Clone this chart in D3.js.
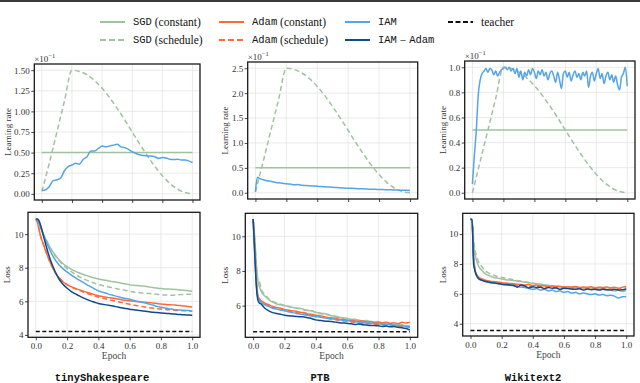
<!DOCTYPE html>
<html><head><meta charset="utf-8">
<script src="https://cdn.jsdelivr.net/npm/d3@7"></script>
<style>body{margin:0;background:#fff} svg{display:block}</style>
</head><body><svg id="c" width="640" height="383"></svg>
<script>
// ---------- data ----------
const xTicks = [0, 0.2, 0.4, 0.6, 0.8, 1.0];
const datasets = ["tinyShakespeare", "PTB", "Wikitext2"];

// learning-rate panels (values in units of 1e-1)
const sgdConstX = [0, 1];
const tsLrSgdConst = [0.5, 0.5];
const ptbLrSgdConst = [0.5, 0.5];
const wtLrSgdConst = [0.5, 0.5];
const sgdSchedX = [0,0.05,0.1,0.15,0.2,0.25,0.3,0.35,0.4,0.45,0.5,0.55,0.6,0.65,0.7,0.75,0.8,0.85,0.9,0.95,1.0];
const tsLrSgdSched = [0.03,0.375,0.75,1.125,1.5,1.485,1.443,1.374,1.28,1.167,1.037,0.897,0.75,0.603,0.463,0.333,0.22,0.126,0.057,0.015,0];
const ptbLrSgdSched = [0.02,0.625,1.25,1.875,2.5,2.475,2.405,2.29,2.134,1.945,1.728,1.495,1.25,1.005,0.772,0.555,0.366,0.21,0.095,0.024,0];
const wtLrSgdSched = [0,0.25,0.5,0.75,1.0,0.99,0.962,0.916,0.854,0.778,0.691,0.598,0.5,0.402,0.309,0.222,0.146,0.084,0.038,0.01,0];

const tsLrX = [0,0.025,0.05,0.075,0.1,0.125,0.15,0.175,0.2,0.225,0.25,0.275,0.3,0.325,0.35,0.375,0.4,0.425,0.45,0.475,0.5,0.525,0.55,0.575,0.6,0.625,0.65,0.675,0.7,0.725,0.75,0.775,0.8,0.825,0.85,0.875,0.9,0.925,0.95,0.975,1.0];
const tsLrIam = [0.04,0.05,0.09,0.16,0.17,0.19,0.28,0.33,0.35,0.37,0.36,0.42,0.45,0.52,0.52,0.55,0.58,0.57,0.58,0.59,0.6,0.57,0.56,0.54,0.51,0.49,0.475,0.465,0.46,0.46,0.45,0.43,0.44,0.435,0.42,0.415,0.42,0.41,0.41,0.4,0.38];

const ptbLrX = [0,0.0125,0.025,0.05,0.075,0.1,0.125,0.15,0.175,0.2,0.225,0.25,0.275,0.3,0.325,0.35,0.375,0.4,0.425,0.45,0.475,0.5,0.525,0.55,0.575,0.6,0.625,0.65,0.675,0.7,0.725,0.75,0.775,0.8,0.825,0.85,0.875,0.9,0.925,0.95,0.975,1.0];
const ptbLrIam = [0.02,0.31,0.29,0.26,0.24,0.23,0.21,0.2,0.19,0.18,0.175,0.16,0.165,0.15,0.145,0.14,0.135,0.13,0.125,0.12,0.115,0.11,0.105,0.1,0.095,0.09,0.09,0.085,0.08,0.08,0.075,0.07,0.07,0.065,0.065,0.06,0.06,0.055,0.055,0.05,0.05,0.047];

const wtLrX = [0,0.0125,0.025,0.0375,0.05,0.0625,0.075,0.0875,0.1,0.1125,0.125,0.1375,0.15,0.1625,0.175,0.1875,0.2,0.2125,0.225,0.2375,0.25,0.2625,0.275,0.2875,0.3,0.3125,0.325,0.3375,0.35,0.3625,0.375,0.3875,0.4,0.4125,0.425,0.4375,0.45,0.4625,0.475,0.4875,0.5,0.5125,0.525,0.5375,0.55,0.5625,0.575,0.5875,0.6,0.6125,0.625,0.6375,0.65,0.6625,0.675,0.6875,0.7,0.7125,0.725,0.7375,0.75,0.7625,0.775,0.7875,0.8,0.8125,0.825,0.8375,0.85,0.8625,0.875,0.8875,0.9,0.9125,0.925,0.9375,0.95,0.9625,0.975,0.9875,1.0];
const wtLrIam = [0.07,0.3,0.5,0.78,0.9,0.95,0.97,0.99,0.96,0.99,0.98,0.94,0.97,0.93,0.96,0.98,0.99,1.0,0.98,1.0,0.97,0.99,0.95,0.99,0.92,0.97,0.9,0.96,0.93,0.98,0.94,0.99,0.96,0.91,0.97,0.94,0.98,0.93,0.96,0.9,0.95,0.97,0.93,0.88,0.96,0.9,0.83,0.95,0.97,0.92,0.96,0.89,0.94,0.97,0.92,0.95,0.9,0.96,0.93,0.97,0.84,0.93,0.96,0.89,0.95,0.99,0.91,0.95,0.87,0.93,0.96,0.9,0.94,0.88,0.93,0.86,0.82,0.92,0.95,1.0,0.85];

// loss panels
const lossX = [0,0.01,0.02,0.03,0.04,0.05,0.075,0.1,0.125,0.15,0.175,0.2,0.225,0.25,0.275,0.3,0.325,0.35,0.375,0.4,0.425,0.45,0.475,0.5,0.525,0.55,0.575,0.6,0.625,0.65,0.675,0.7,0.725,0.75,0.775,0.8,0.825,0.85,0.875,0.9,0.925,0.95,0.975,1.0];
const teacherX = [0, 1];

const tsSgdConst = [10.9,10.88,10.72,10.48,10.22,9.98,9.5,9.08,8.74,8.46,8.24,8.06,7.92,7.8,7.7,7.61,7.53,7.46,7.39,7.33,7.29,7.25,7.2,7.16,7.12,7.08,7.03,6.98,6.96,6.94,6.92,6.9,6.86,6.82,6.79,6.76,6.74,6.73,6.72,6.7,6.68,6.66,6.63,6.6];
const tsSgdSched = [10.9,10.88,10.72,10.48,10.22,9.98,9.5,9.06,8.7,8.4,8.15,7.95,7.78,7.62,7.48,7.36,7.26,7.17,7.08,7.0,6.94,6.89,6.84,6.79,6.74,6.7,6.65,6.6,6.56,6.53,6.5,6.48,6.46,6.44,6.42,6.4,6.38,6.37,6.37,6.38,6.4,6.41,6.42,6.42];
const tsAdamConst = [10.9,10.7,10.3,9.9,9.6,9.35,8.7,8.15,7.7,7.4,7.15,7.0,6.88,6.78,6.7,6.62,6.54,6.47,6.4,6.33,6.29,6.25,6.21,6.18,6.14,6.1,6.06,6.03,6.0,5.98,5.96,5.94,5.92,5.9,5.87,5.84,5.82,5.8,5.79,5.77,5.75,5.73,5.7,5.68];
const tsAdamSched = [10.9,10.7,10.3,9.9,9.6,9.35,8.7,8.15,7.7,7.4,7.15,7.0,6.87,6.76,6.66,6.57,6.48,6.4,6.33,6.26,6.2,6.14,6.08,6.03,5.98,5.93,5.88,5.83,5.78,5.74,5.7,5.66,5.62,5.59,5.56,5.54,5.52,5.5,5.48,5.46,5.45,5.44,5.43,5.42];
const tsIam = [10.9,10.85,10.65,10.4,10.15,9.9,9.35,8.85,8.45,8.15,7.93,7.75,7.58,7.42,7.28,7.14,7.0,6.88,6.74,6.62,6.55,6.48,6.4,6.34,6.28,6.22,6.17,6.12,6.06,6.0,5.95,5.9,5.84,5.78,5.7,5.65,5.6,5.56,5.53,5.5,5.48,5.47,5.45,5.43];
const tsIamAdam = [10.9,10.9,10.8,10.55,10.2,9.85,9.0,8.3,7.75,7.3,7.0,6.78,6.6,6.46,6.34,6.22,6.12,6.03,5.95,5.87,5.83,5.79,5.75,5.71,5.66,5.62,5.57,5.53,5.5,5.47,5.44,5.41,5.38,5.35,5.33,5.31,5.29,5.27,5.25,5.23,5.21,5.2,5.18,5.17];
const tsTeacher = [4.2, 4.2];

const ptbSgdConst = [11.0,10.0,8.5,7.5,7.1,6.85,6.55,6.35,6.2,6.1,6.05,6.0,5.95,5.9,5.85,5.83,5.78,5.72,5.7,5.62,5.58,5.55,5.5,5.42,5.4,5.33,5.3,5.28,5.2,5.22,5.15,5.12,5.14,5.08,5.06,5.05,4.98,5.02,4.95,4.92,4.95,4.88,4.85,4.82];
const ptbSgdSched = [11.0,9.8,8.3,7.45,7.4,7.0,6.65,6.4,6.25,6.15,6.08,6.02,5.96,5.9,5.86,5.84,5.75,5.72,5.7,5.6,5.55,5.5,5.48,5.4,5.36,5.3,5.25,5.22,5.2,5.15,5.16,5.1,5.08,5.05,5.02,4.98,4.97,4.95,4.92,4.9,4.88,4.86,4.83,4.8];
const ptbAdamConst = [11.0,9.5,7.6,6.6,6.4,6.3,6.15,6.05,5.95,5.9,5.85,5.78,5.75,5.7,5.68,5.62,5.6,5.52,5.5,5.45,5.42,5.38,5.32,5.3,5.28,5.22,5.2,5.18,5.15,5.12,5.1,5.12,5.05,5.08,5.02,5.06,5.0,5.05,4.98,5.02,4.96,5.04,5.0,5.05];
const ptbAdamSched = [11.0,9.4,7.5,6.55,6.35,6.25,6.1,5.98,5.9,5.85,5.78,5.72,5.7,5.64,5.6,5.55,5.52,5.46,5.42,5.38,5.35,5.3,5.27,5.22,5.2,5.16,5.12,5.1,5.06,5.04,5.0,4.98,4.96,4.95,4.92,4.93,4.88,4.9,4.85,4.84,4.82,4.8,4.78,4.75];
const ptbIam = [11.0,9.2,7.3,6.5,6.3,6.2,6.05,5.95,5.85,5.8,5.75,5.7,5.65,5.6,5.55,5.52,5.48,5.45,5.4,5.36,5.35,5.3,5.27,5.25,5.2,5.18,5.15,5.14,5.1,5.08,5.05,5.02,5.0,5.0,4.97,4.96,4.93,4.92,4.9,4.88,4.85,4.84,4.8,4.78];
const ptbIamAdam = [11.0,9.0,7.2,6.33,6.15,6.1,5.85,5.7,5.6,5.55,5.5,5.45,5.42,5.4,5.38,5.36,5.35,5.3,5.25,5.18,5.15,5.12,5.1,5.08,5.05,5.02,5.0,4.98,4.95,4.92,4.94,4.9,4.88,4.86,4.85,4.84,4.8,4.82,4.78,4.8,4.75,4.72,4.68,4.6];
const ptbTeacher = [4.5, 4.5];

const wtSgdConst = [11.0,10.9,9.3,8.6,8.2,7.9,7.55,7.3,7.2,7.1,7.05,7.0,6.95,6.92,6.9,6.85,6.82,6.78,6.74,6.7,6.68,6.64,6.6,6.56,6.55,6.52,6.5,6.48,6.46,6.45,6.42,6.42,6.4,6.38,6.37,6.35,6.34,6.33,6.3,6.3,6.28,6.25,6.22,6.2];
const wtSgdSched = [11.0,10.9,9.7,8.9,8.5,8.2,7.8,7.5,7.35,7.25,7.15,7.1,7.05,7.0,6.95,6.9,6.86,6.8,6.76,6.72,6.68,6.64,6.6,6.56,6.52,6.5,6.47,6.45,6.42,6.42,6.4,6.38,6.36,6.35,6.33,6.32,6.3,6.28,6.25,6.22,6.2,6.18,6.16,6.15];
const wtAdamConst = [11.0,10.9,8.5,7.6,7.3,7.15,7.0,6.9,6.85,6.82,6.8,6.75,6.72,6.7,6.68,6.65,6.62,6.6,6.62,6.55,6.6,6.52,6.55,6.5,6.52,6.48,6.5,6.45,6.48,6.45,6.5,6.42,6.46,6.44,6.48,6.4,6.45,6.42,6.46,6.4,6.44,6.38,6.45,6.5];
const wtAdamSched = [11.0,10.9,8.4,7.55,7.25,7.1,6.95,6.85,6.8,6.78,6.74,6.7,6.66,6.64,6.6,6.58,6.55,6.54,6.5,6.52,6.48,6.5,6.46,6.45,6.42,6.44,6.4,6.42,6.38,6.4,6.36,6.38,6.35,6.36,6.34,6.35,6.32,6.34,6.3,6.33,6.3,6.32,6.35,6.4];
const wtIam = [11.0,10.9,8.3,7.5,7.2,7.05,6.9,6.8,6.75,6.72,6.7,6.65,6.6,6.58,6.55,6.5,6.45,6.42,6.35,6.3,6.35,6.25,6.3,6.2,6.25,6.15,6.2,6.1,6.15,6.05,6.1,6.0,6.05,6.0,5.95,6.0,5.92,5.95,5.88,5.9,5.85,5.72,5.8,5.82];
const wtIamAdam = [11.0,11.0,8.0,7.5,7.2,7.05,6.9,6.82,6.78,6.72,6.7,6.65,6.62,6.6,6.58,6.45,6.6,6.52,6.4,6.48,6.42,6.45,6.35,6.42,6.38,6.4,6.3,6.38,6.35,6.32,6.3,6.34,6.25,6.32,6.28,6.3,6.25,6.3,6.28,6.26,6.3,6.25,6.28,6.3];
const wtTeacher = [3.55, 3.55];

// ---------- style ----------
const COL = {sgd: "#9fc39f", adam: "#fd6b3d", iam: "#55a4e6", iamAdam: "#0e4b8b", teacher: "#111111"};
const SERIF = "'Liberation Serif','DejaVu Serif',serif";
const MONO = "'Liberation Mono','DejaVu Sans Mono',monospace";
const DASH = "5,3";

const svg = d3.select("#c");
svg.append("rect").attr("x",0).attr("y",0).attr("width",640).attr("height",2).attr("fill","#3a3a3a");

function lossSeries(sc, ss, ac, as, ia, iad, te) {
  return [
    {x: lossX, y: sc, c: COL.sgd},
    {x: lossX, y: ss, c: COL.sgd, d: DASH},
    {x: lossX, y: ac, c: COL.adam},
    {x: lossX, y: as, c: COL.adam, d: DASH},
    {x: lossX, y: ia, c: COL.iam},
    {x: lossX, y: iad, c: COL.iamAdam},
    {x: teacherX, y: te, c: COL.teacher, d: "4,2.5", w: 1.5}
  ];
}

const panels = [
  {L:34.3,R:200,T:64,B:200, yDom:[-0.075,1.575], yTicks:[0,0.25,0.5,0.75,1,1.25,1.5], yFmt:d3.format(".2f"), xLab:false, ylab:"Learning rate", ylabX:7.5, offset:true,
   series:[{x:sgdConstX,y:tsLrSgdConst,c:COL.sgd},{x:sgdSchedX,y:tsLrSgdSched,c:COL.sgd,d:DASH},{x:tsLrX,y:tsLrIam,c:COL.iam}]},
  {L:247.7,R:417.7,T:62,B:199, yDom:[-0.125,2.625], yTicks:[0,0.5,1,1.5,2,2.5], yFmt:d3.format(".1f"), xLab:false, ylab:"Learning rate", ylabX:225, offset:true,
   series:[{x:sgdConstX,y:ptbLrSgdConst,c:COL.sgd},{x:sgdSchedX,y:ptbLrSgdSched,c:COL.sgd,d:DASH},{x:ptbLrX,y:ptbLrIam,c:COL.iam}]},
  {L:464.7,R:635,T:61,B:199, yDom:[-0.05,1.05], yTicks:[0,0.2,0.4,0.6,0.8,1.0], yFmt:d3.format(".1f"), xLab:false, ylab:"Learning rate", ylabX:442.5, offset:true,
   series:[{x:sgdConstX,y:wtLrSgdConst,c:COL.sgd},{x:sgdSchedX,y:wtLrSgdSched,c:COL.sgd,d:DASH},{x:wtLrX,y:wtLrIam,c:COL.iam}]},
  {L:28,R:200,T:212.3,B:337.3, yDom:[3.86,11.3], yTicks:[4,6,8,10], yFmt:d3.format("d"), xLab:true, ylab:"Loss", ylabX:7, title:datasets[0], titleX:102,
   series:lossSeries(tsSgdConst,tsSgdSched,tsAdamConst,tsAdamSched,tsIam,tsIamAdam,tsTeacher)},
  {L:245.3,R:417.7,T:213.3,B:337.3, yDom:[4.175,11.325], yTicks:[6,8,10], yFmt:d3.format("d"), xLab:true, ylab:"Loss", ylabX:225, title:datasets[1], titleX:320,
   series:lossSeries(ptbSgdConst,ptbSgdSched,ptbAdamConst,ptbAdamSched,ptbIam,ptbIamAdam,ptbTeacher)},
  {L:462.7,R:634,T:213.3,B:336, yDom:[3.18,11.39], yTicks:[4,6,8,10], yFmt:d3.format("d"), xLab:true, ylab:"Loss", ylabX:442.5, title:datasets[2], titleX:533,
   series:lossSeries(wtSgdConst,wtSgdSched,wtAdamConst,wtAdamSched,wtIam,wtIamAdam,wtTeacher)}
];

panels.forEach((p, pi) => {
  const g = svg.append("g");
  const x = d3.scaleLinear().domain([-0.05, 1.05]).range([p.L, p.R]);
  const y = d3.scaleLinear().domain(p.yDom).range([p.B, p.T]);
  // grid
  g.selectAll(".gx").data(xTicks).join("line")
    .attr("x1", d => x(d)).attr("x2", d => x(d)).attr("y1", p.T).attr("y2", p.B)
    .attr("stroke", "#e4e4e4").attr("stroke-width", 0.8);
  g.selectAll(".gy").data(p.yTicks).join("line")
    .attr("y1", d => y(d)).attr("y2", d => y(d)).attr("x1", p.L).attr("x2", p.R)
    .attr("stroke", "#e4e4e4").attr("stroke-width", 0.8);
  // lines
  const clipId = "clip" + pi;
  svg.append("clipPath").attr("id", clipId).append("rect")
    .attr("x", p.L).attr("y", p.T).attr("width", p.R - p.L).attr("height", p.B - p.T);
  const lg = g.append("g").attr("clip-path", `url(#${clipId})`);
  p.series.forEach(s => {
    const pts = s.x.map((xv, i) => [xv, s.y[i]]);
    const line = d3.line().x(d => x(d[0])).y(d => y(d[1])).curve(d3.curveMonotoneX);
    lg.append("path").attr("d", line(pts)).attr("fill", "none")
      .attr("stroke", s.c).attr("stroke-width", s.w || 1.5)
      .attr("stroke-dasharray", s.d || null).attr("stroke-linejoin", "round");
  });
  // axes
  const ax = g.append("g").attr("transform", `translate(0,${p.B})`)
    .call(d3.axisBottom(x).tickValues(xTicks).tickSize(3).tickPadding(2.5)
      .tickFormat(p.xLab ? d3.format(".1f") : () => ""));
  const ay = g.append("g").attr("transform", `translate(${p.L},0)`)
    .call(d3.axisLeft(y).tickValues(p.yTicks).tickSize(3).tickPadding(1.5).tickFormat(p.yFmt));
  [ax, ay].forEach(a => {
    a.select(".domain").remove();
    a.selectAll("line").attr("stroke", "#333").attr("stroke-width", 0.9);
    a.selectAll("text").attr("font-family", SERIF).attr("font-size", 9).attr("fill", "#333");
  });
  // frame
  g.append("rect").attr("x", p.L).attr("y", p.T).attr("width", p.R - p.L).attr("height", p.B - p.T)
    .attr("fill", "none").attr("stroke", "#1a1a1a").attr("stroke-width", 1.3);
  // y label
  g.append("text").attr("transform", `translate(${p.ylabX},${(p.T + p.B) / 2}) rotate(-90)`)
    .attr("text-anchor", "middle").attr("dominant-baseline", "central")
    .attr("font-family", SERIF).attr("font-size", 9).attr("fill", "#333").text(p.ylab);
  if (p.offset) {
    const t = g.append("text").attr("x", p.L).attr("y", p.T - 2.5)
      .attr("font-family", SERIF).attr("font-size", 9).attr("fill", "#333");
    t.append("tspan").text("×10");
    t.append("tspan").attr("dy", -3.5).attr("font-size", 6.5).text("−1");
  }
  if (p.xLab) {
    g.append("text").attr("x", (x(0) + x(1)) / 2).attr("y", p.B + 22)
      .attr("text-anchor", "middle").attr("font-family", SERIF).attr("font-size", 9.5).attr("fill", "#444").text("Epoch");
    g.append("text").attr("x", p.titleX).attr("y", 381)
      .attr("text-anchor", "middle").attr("font-family", MONO).attr("font-weight", "bold")
      .attr("font-size", 10.5).attr("fill", "#111").text(p.title);
  }
});

// ---------- legend ----------
const legendItems = [
  {x:100, y:22, c:COL.sgd, parts:[["SGD","m"],[" (constant)","s"]]},
  {x:100, y:40, c:COL.sgd, d:"6,3", parts:[["SGD","m"],[" (schedule)","s"]]},
  {x:219, y:22, c:COL.adam, parts:[["Adam","m"],[" (constant)","s"]]},
  {x:219, y:40, c:COL.adam, d:"6,3", parts:[["Adam","m"],[" (schedule)","s"]]},
  {x:345, y:22, c:COL.iam, parts:[["IAM","m"]]},
  {x:345, y:40, c:COL.iamAdam, parts:[["IAM","m"],[" − ","s"],["Adam","m"]]},
  {x:448, y:22, c:COL.teacher, d:"5,2.5", parts:[["teacher","s"]]}
];
const lg = svg.append("g");
legendItems.forEach(it => {
  lg.append("line").attr("x1", it.x).attr("x2", it.x + 25).attr("y1", it.y).attr("y2", it.y)
    .attr("stroke", it.c).attr("stroke-width", 2).attr("stroke-dasharray", it.d || null);
  const t = lg.append("text").attr("x", it.x + 33).attr("y", it.y).attr("dominant-baseline", "central").attr("fill", "#111");
  it.parts.forEach(([s, f]) => {
    t.append("tspan").attr("font-family", f === "m" ? MONO : SERIF)
      .attr("font-size", f === "m" ? 10.5 : 11.5).attr("xml:space", "preserve").text(s);
  });
});
</script></body></html>
